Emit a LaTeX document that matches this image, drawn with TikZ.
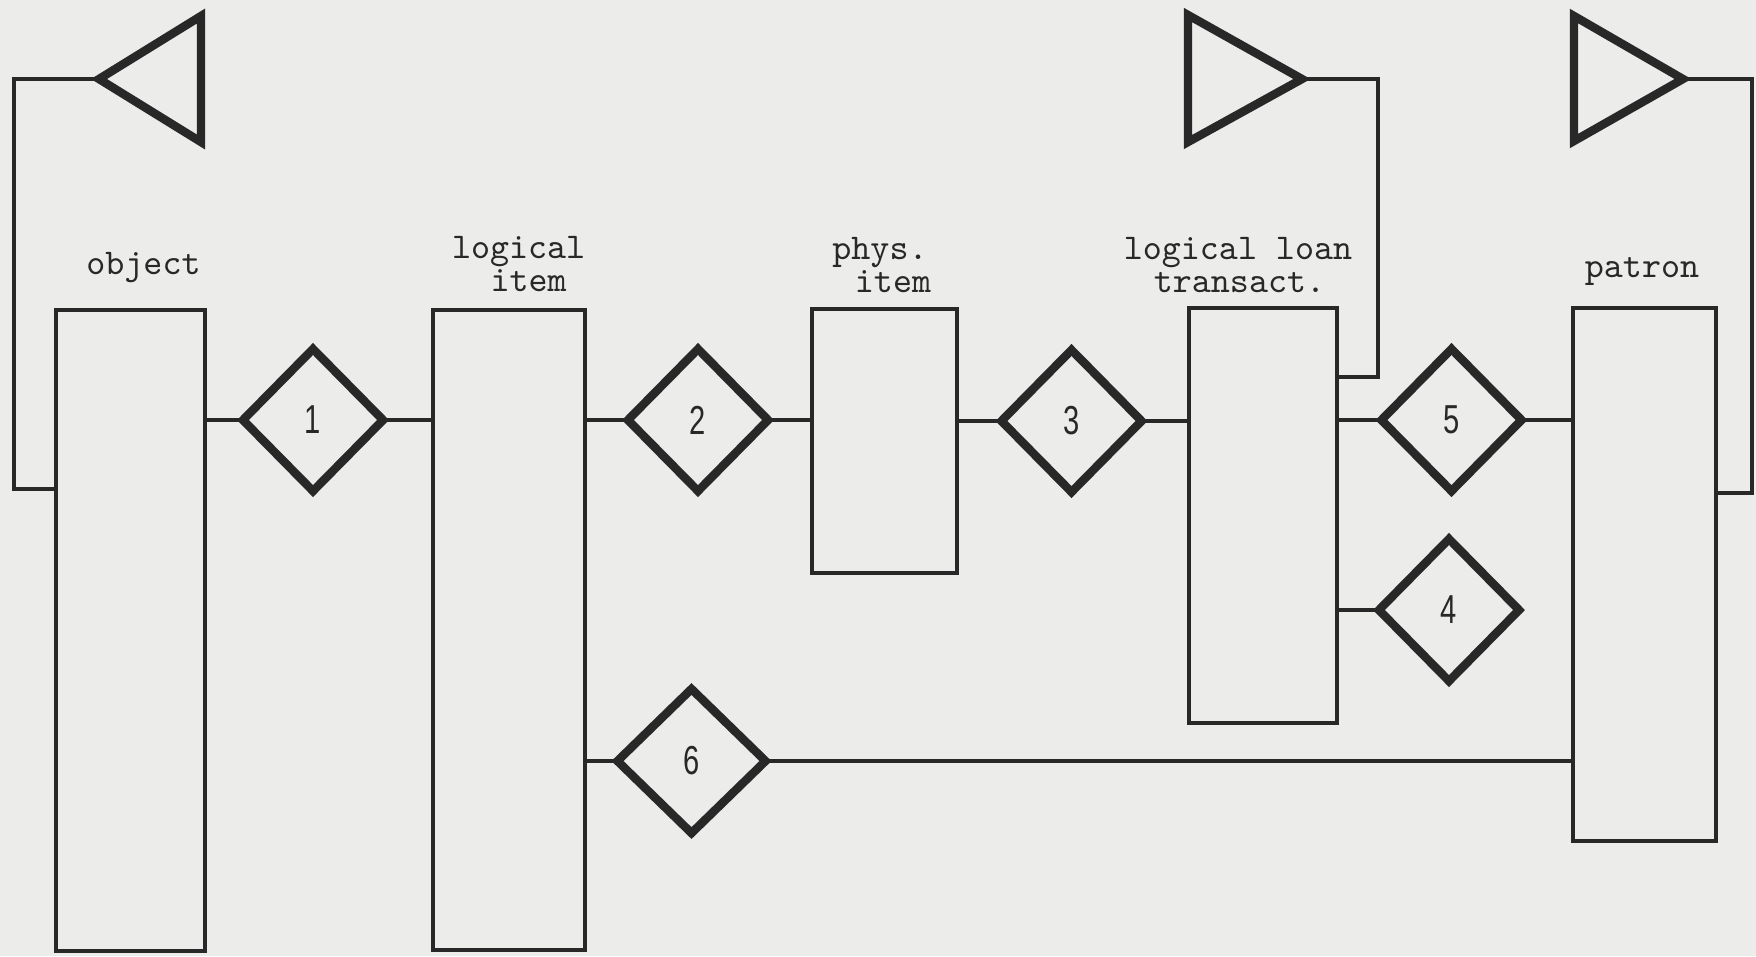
\documentclass[tikz,border=0pt]{standalone}
\usepackage{fontspec}
\usepackage{graphicx}
\newfontfamily\digitfont{Liberation Sans}
\usetikzlibrary{shapes.geometric}
\definecolor{paper}{RGB}{236,236,234}
\definecolor{ink}{RGB}{40,40,40}
\newcommand{\relnum}[1]{\scalebox{0.72}[1]{#1}}
\begin{document}
\begin{tikzpicture}[x=0.01cm,y=-0.01cm,
  box/.style={draw=ink,line width=1.3pt,inner sep=0pt,outer sep=0pt},
  rel/.style={diamond,draw=ink,line width=2.4pt,line join=miter,inner sep=0pt,outer sep=0pt,
    minimum width=1.40cm,minimum height=1.42cm,text=ink,
    font=\digitfont\fontsize{11.5}{11.5}\selectfont},
  conn/.style={draw=ink,line width=1.3pt},
  loopline/.style={draw=ink,line width=1.3pt,line join=miter},
  tri/.style={draw=ink,line width=2.4pt,line join=miter},
  lbl/.style={font=\ttfamily\fontsize{10.3}{10.3}\selectfont,inner sep=0pt,text=ink,anchor=base}
]
\fill[paper] (0,0) rectangle (1756,956);
\useasboundingbox (0,0) rectangle (1756,956);

% entity boxes
\node[box,minimum width=1.49cm,minimum height=6.41cm] (obj) at (130.5,630.5) {};
\node[box,minimum width=1.52cm,minimum height=6.40cm] (litem) at (509,630) {};
\node[box,minimum width=1.45cm,minimum height=2.64cm] (pitem) at (884.5,441) {};
\node[box,minimum width=1.48cm,minimum height=4.15cm] (llt) at (1263,515.5) {};
\node[box,minimum width=1.43cm,minimum height=5.33cm] (pat) at (1644.5,574.5) {};

% labels
\node[lbl] (tobj) at (143.5,274) {object};
\node[lbl] (tlit1) at (518.6,258) {logical};
\node[lbl] (tlit2) at (528.7,291) {item};
\node[lbl] (tph1) at (880,259) {phys.};
\node[lbl] (tph2) at (893,292) {item};
\node[lbl] (tll1) at (1238,259) {logical loan};
\node[lbl] (tll2) at (1239.5,292) {transact.};
\node[lbl] (tpat) at (1642,277) {patron};

% relationship diamonds
\node[rel] (d1) at (313,420) {\relnum{1}};
\node[rel] (d2) at (698,420) {\relnum{2}};
\node[rel] (d3) at (1071.5,421) {\relnum{3}};
\node[rel] (d5) at (1451.5,420) {\relnum{5}};
\node[rel] (d4) at (1449,610) {\relnum{4}};
\node[rel,minimum width=1.48cm,minimum height=1.44cm] (d6) at (691.5,761) {\relnum{6}};

% connectors
\draw[conn] (obj.east |- d1.west) -- (d1.west);
\draw[conn] (d1.east) -- (d1.east -| litem.west);
\draw[conn] (litem.east |- d2.west) -- (d2.west);
\draw[conn] (d2.east) -- (d2.east -| pitem.west);
\draw[conn] (pitem.east |- d3.west) -- (d3.west);
\draw[conn] (d3.east) -- (d3.east -| llt.west);
\draw[conn] (llt.east |- d5.west) -- (d5.west);
\draw[conn] (d5.east) -- (d5.east -| pat.west);
\draw[conn] (llt.east |- d4.west) -- (d4.west);
\draw[conn] (litem.east |- d6.west) -- (d6.west);
\draw[conn] (d6.east) -- (d6.east -| pat.west);

% recursive loops with triangles
\coordinate (ta) at (99,79);
\coordinate (ob) at (14,489);
\draw[tri] (ta) -- (201,16) -- (201,142) -- cycle;
\draw[loopline] (obj.west |- ob) -- (ob) -- (ob |- ta) -- (ta);

\coordinate (tb) at (1302,79);
\coordinate (lb) at (1378,377);
\draw[tri] (tb) -- (1188,15) -- (1188,142) -- cycle;
\draw[loopline] (tb) -- (tb -| lb) -- (lb) -- (lb -| llt.east);

\coordinate (tc) at (1683,79);
\coordinate (pb) at (1752,493);
\draw[tri] (tc) -- (1574,16) -- (1574,141) -- cycle;
\draw[loopline] (tc) -- (tc -| pb) -- (pb) -- (pb -| pat.east);
\end{tikzpicture}
\end{document}
